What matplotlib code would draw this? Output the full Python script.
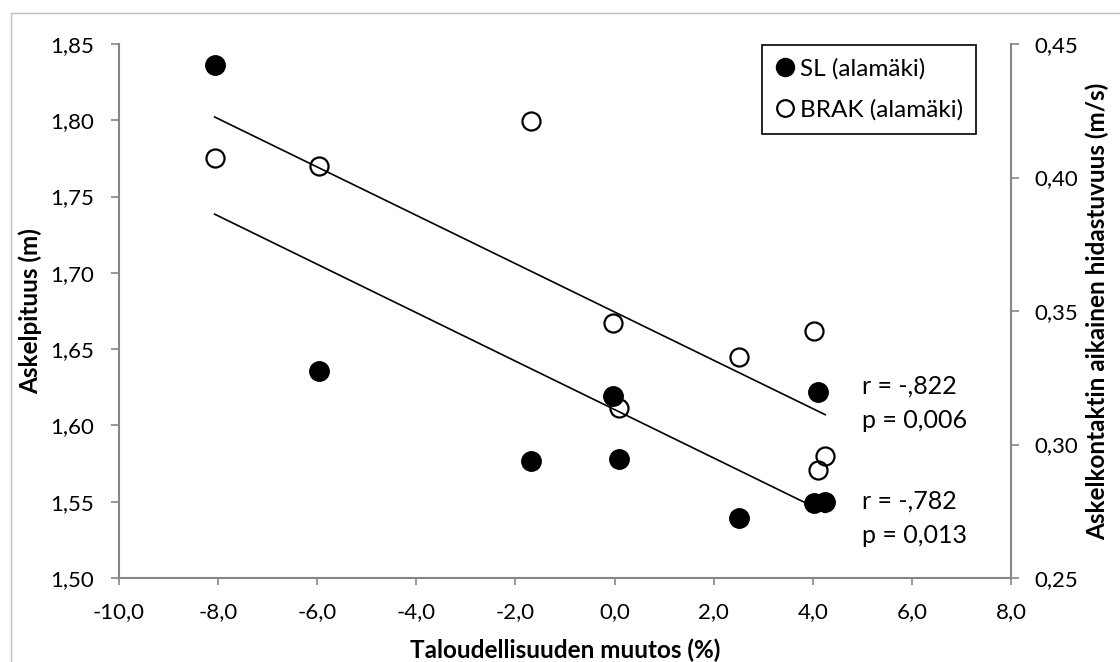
import matplotlib
matplotlib.use('Agg')
import matplotlib.pyplot as plt
from matplotlib.lines import Line2D
from matplotlib.patches import Rectangle
from matplotlib.ticker import FuncFormatter, MultipleLocator
import numpy as np

plt.rcParams['font.family'] = ['Lato', 'DejaVu Sans']
plt.rcParams['font.size'] = 16

# data
muutos = [-8.07, -5.96, -1.69, -0.03, 0.08, 2.52, 4.02, 4.10, 4.25]
sl = [1.836, 1.636, 1.5765, 1.619, 1.578, 1.5395, 1.549, 1.622, 1.550]
brak = [0.4072, 0.4043, 0.4213, 0.3456, 0.3136, 0.3329, 0.3426, 0.2905, 0.2958]

grey = '#868686'

def comma(fmt):
    return FuncFormatter(lambda v, p: (fmt % v).replace('.', ','))

fig = plt.figure(figsize=(11.2, 6.62), dpi=100)
fig.patches.append(Rectangle((11/1120, -0.1), 1.2, 1 - 13/662 + 0.1,
                             transform=fig.transFigure, fill=False,
                             edgecolor='#bfbfbf', lw=1))
ax = fig.add_axes([119/1120, 84/662, 892/1120, 534/662])
ax2 = ax.twinx()

x = np.array(muutos)
xs = np.array([x.min(), x.max()])

ax.plot(x, sl, 'o', color='black', ms=14, zorder=3)
k, b = np.polyfit(x, sl, 1)
ax.plot(xs, k*xs + b, color='black', lw=1.2)

ax2.plot(x, brak, 'o', mfc='none', mec='black', mew=1.6, ms=13, zorder=3)
k2, b2 = np.polyfit(x, brak, 1)
ax2.plot(xs, k2*xs + b2, color='black', lw=1.2)

ax.set_xlim(-10, 8)
ax.set_ylim(1.50, 1.85)
ax2.set_ylim(0.25, 0.45)
ax.xaxis.set_major_locator(MultipleLocator(2))
ax.yaxis.set_major_locator(MultipleLocator(0.05))
ax2.yaxis.set_major_locator(MultipleLocator(0.05))
ax.xaxis.set_major_formatter(comma('%.1f'))
ax.yaxis.set_major_formatter(comma('%.2f'))
ax2.yaxis.set_major_formatter(comma('%.2f'))

for a in (ax, ax2):
    for s in a.spines.values():
        s.set_color(grey)
        s.set_linewidth(1.5)
    a.spines['top'].set_visible(False)
ax.spines['right'].set_visible(False)
ax2.spines['left'].set_visible(False)
ax2.spines['bottom'].set_visible(False)
ax.tick_params(axis='y', direction='out', length=6, width=1.2, color=grey, pad=12)
ax.tick_params(axis='x', direction='out', length=5, width=1.2, color=grey, pad=12)
ax2.tick_params(axis='y', direction='out', length=6, width=1.2, color=grey, pad=11)

fig.text(30/1120, 1 - 311/662, 'Askelpituus (m)', rotation=90,
         ha='center', va='center', fontweight='bold', fontsize=17.5)
fig.text(1097/1120, 1 - 311/662, 'Askelkontaktin aikainen hidastuvuus (m/s)',
         rotation=90, ha='center', va='center', fontweight='bold', fontsize=17.5)
fig.text(565/1120, 1 - 650/662, 'Taloudellisuuden muutos (%)',
         ha='center', va='center', fontweight='bold', fontsize=17.5)

ax.text(0.833, (578 - 394)/534, 'r = -,822', transform=ax.transAxes, fontsize=18)
ax.text(0.833, (578 - 428)/534, 'p = 0,006', transform=ax.transAxes, fontsize=18)
ax.text(0.833, (578 - 509)/534, 'r = -,782', transform=ax.transAxes, fontsize=18)
ax.text(0.833, (578 - 543)/534, 'p = 0,013', transform=ax.transAxes, fontsize=18)

handles = [Line2D([], [], ls='none', marker='o', color='black', ms=13),
           Line2D([], [], ls='none', marker='o', mfc='none', mec='black', mew=1.6, ms=12)]
leg = ax2.legend(handles, ['SL (alamäki)', 'BRAK (alamäki)'],
                 loc='upper left', bbox_to_anchor=(762/1120, 1 - 45/662),
                 bbox_transform=fig.transFigure, borderaxespad=0,
                 fancybox=False, edgecolor='black', framealpha=1,
                 handlelength=0.8, handletextpad=0.2, labelspacing=0.8,
                 borderpad=0.55, fontsize=17.5)
leg.get_frame().set_linewidth(1.2)

fig.savefig('out.png', dpi=100)
